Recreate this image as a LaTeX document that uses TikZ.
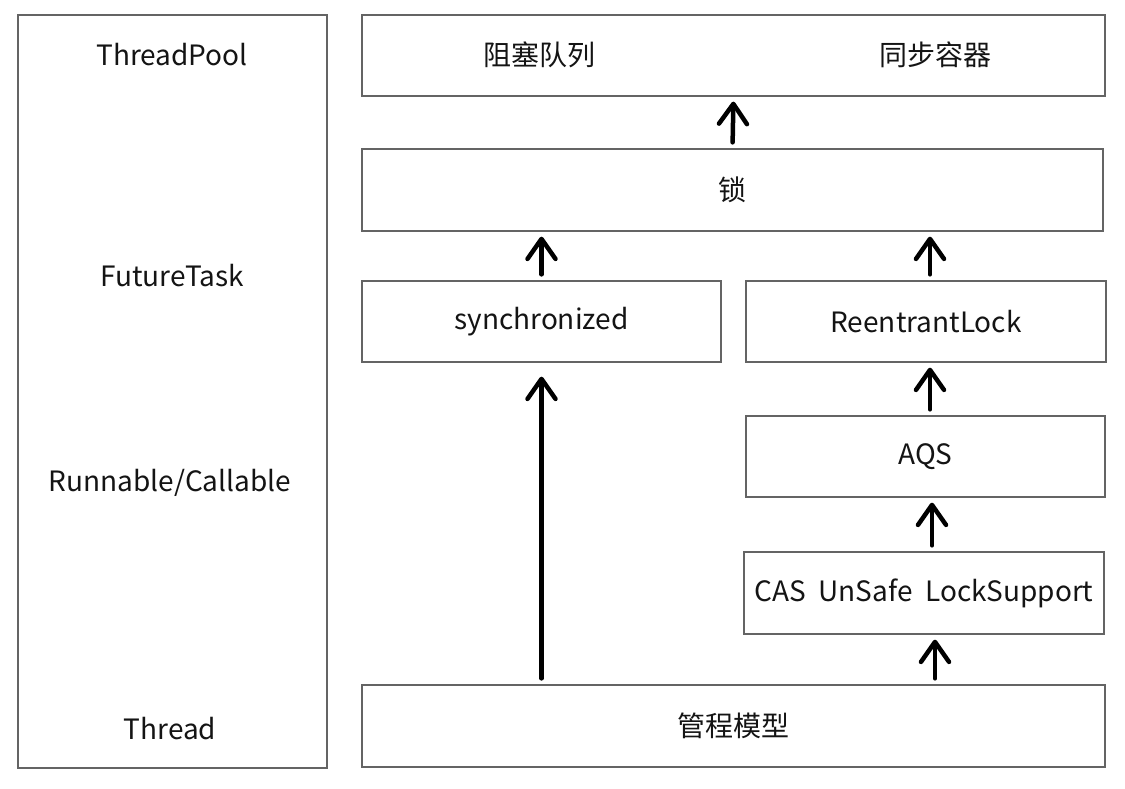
\documentclass[tikz,border=0pt]{standalone}
\usepackage{fontspec}
\setmainfont{Noto Sans CJK SC}
\usetikzlibrary{arrows.meta, positioning}
\definecolor{boxgray}{RGB}{100, 100, 100}
\definecolor{textdark}{RGB}{20, 20, 20}

\begin{document}
\begin{tikzpicture}[
    x=1pt, y=-1pt,
    layer/.style={rectangle, draw=boxgray, line width=1.3pt, inner sep=0pt, minimum height=81pt, font=\fontsize{28}{32}\selectfont, text=textdark},
    lefttext/.style={font=\fontsize{28}{32}\selectfont, text=textdark},
    arrow/.style={-{Straight Barb[length=20pt, width=28pt, line cap=round, line join=round]}, line width=4.5pt, line cap=round, color=black, shorten >=5pt, shorten <=6pt},
]
\useasboundingbox (0, 0) rectangle (1125, 789);

% Left column
\node[layer, minimum width=309pt, minimum height=753pt] (stack) at (172.5, 391.5) {};
\node[lefttext] (pool) at (172, 55) {ThreadPool};
\node[lefttext] (future) at (172, 276) {FutureTask};
\node[lefttext] (runnable) at (170, 483) {Runnable/Callable};
\node[lefttext] (thread) at (170, 729) {Thread};

% Top layer
\node[layer, minimum width=743pt] (top) at (733.5, 55.5) {};
\node[lefttext] (queue) at (539, 55) {阻塞队列};
\node[lefttext] (container) at (935, 55) {同步容器};

% Lock
\node[layer, minimum width=741pt, minimum height=82pt] (lock) at (732.5, 190) {锁};

% Lock implementations
\node[layer, minimum width=359pt] (sync) at (541.5, 321.5) {synchronized};
\node[layer, minimum width=360pt] (reentrant) at (926, 321.5) {ReentrantLock};
\node[layer, minimum width=359pt] (aqs) at (925.5, 456.5) {AQS};
\node[layer, minimum width=360pt, minimum height=82pt] (cas) at (924, 593) {CAS\ \ UnSafe\ \ LockSupport};

% Bottom layer
\node[layer, minimum width=743pt, minimum height=82pt] (mgmt) at (733.5, 726) {管程模型};

% Arrows
\draw[arrow] (lock.north) -- (top.south);
\draw[arrow] (sync.north) -- (sync.north |- lock.south);
\draw[arrow] ([xshift=4pt]reentrant.north) -- ([xshift=4pt]reentrant.north |- lock.south);
\draw[arrow] ([xshift=4.5pt]aqs.north) -- ([xshift=4.5pt]aqs.north |- reentrant.south);
\draw[arrow] ([xshift=8pt]cas.north) -- ([xshift=8pt]cas.north |- aqs.south);
\draw[arrow] ([xshift=11pt]cas.south |- mgmt.north) -- ([xshift=11pt]cas.south);
\draw[arrow, shorten >=14pt] (sync.south |- mgmt.north) -- (sync.south);

\end{tikzpicture}
\end{document}
